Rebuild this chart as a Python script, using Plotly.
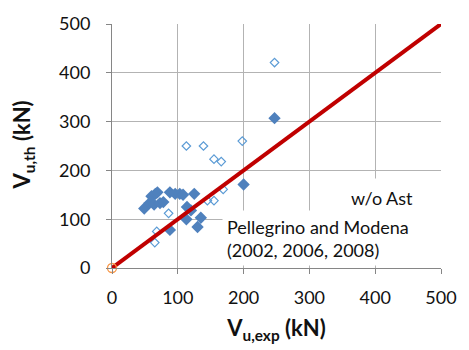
import plotly.graph_objects as go

# Data
filled_x = [49, 57, 60, 64, 66, 69, 73, 78, 88, 88, 96, 103, 108, 125, 114, 120, 113, 135, 130, 200, 247]
filled_y = [122, 133, 147, 130, 152, 155, 133, 135, 78, 155, 152, 152, 150, 152, 125, 118, 100, 103, 84, 171, 307]

hollow_x = [65, 68, 86, 113, 113, 139, 155, 166, 198, 145, 155, 169, 247]
hollow_y = [52, 75, 112, 125, 250, 250, 223, 218, 260, 138, 138, 161, 421]

line_x = [0, 500]
line_y = [0, 500]

origin_x = [0]
origin_y = [0]

tick_vals = [0, 100, 200, 300, 400, 500]

FONT = "Lato"
AXIS_COL = "#868686"
GRID_COL = "#b3b3b3"
TXT = "#111111"

fig = go.Figure()

fig.add_trace(go.Scatter(
    x=hollow_x, y=hollow_y, mode="markers",
    marker=dict(symbol="diamond-open", size=6.5, color="#5b9bd5", line=dict(width=1.2, color="#5b9bd5")),
    cliponaxis=False, showlegend=False))

fig.add_trace(go.Scatter(
    x=filled_x, y=filled_y, mode="markers",
    marker=dict(symbol="diamond", size=9.5, color="#4f81bd", line=dict(width=0)),
    cliponaxis=False, showlegend=False))

fig.add_trace(go.Scatter(
    x=line_x, y=line_y, mode="lines",
    line=dict(color="#c00000", width=4),
    cliponaxis=False, showlegend=False))

fig.add_trace(go.Scatter(
    x=origin_x, y=origin_y, mode="markers",
    marker=dict(symbol="circle-open", size=9, color="#f79646", line=dict(width=1.3, color="#f79646")),
    cliponaxis=False, showlegend=False))

fig.update_layout(
    width=469, height=350,
    margin=dict(l=112, r=19, t=20, b=82),
    paper_bgcolor="white", plot_bgcolor="white",
    font=dict(family=FONT, size=18, color=TXT),
    xaxis=dict(
        range=[0, 500], tickvals=tick_vals, ticks="outside", ticklen=5, tickcolor=AXIS_COL,
        showline=True, linecolor=AXIS_COL, linewidth=1,
        showgrid=True, gridcolor=GRID_COL, gridwidth=1, zeroline=False,
        tickfont=dict(family=FONT, size=18, color=TXT), ticklabelstandoff=8,
        title=dict(text="<b>V<sub>u,exp</sub> (kN)</b>", font=dict(family=FONT, size=22, color=TXT), standoff=14),
    ),
    yaxis=dict(
        range=[0, 500], tickvals=tick_vals, ticks="outside", ticklen=5, tickcolor=AXIS_COL,
        showline=True, linecolor=AXIS_COL, linewidth=1,
        showgrid=True, gridcolor=GRID_COL, gridwidth=1, zeroline=False,
        tickfont=dict(family=FONT, size=18, color=TXT), ticklabelstandoff=12,
    ),
)

# y-axis title placed as rotated annotation
fig.add_annotation(
    xref="paper", yref="paper", x=(21 - 112) / 338, y=(268 - 143) / 248,
    xanchor="center", yanchor="middle", showarrow=False, textangle=-90,
    text="<b>V<sub>u,th</sub> (kN)</b>", font=dict(family=FONT, size=22, color=TXT))

fig.add_annotation(
    xref="paper", yref="paper", x=(389 - 112) / 338, y=(268 - 197) / 248,
    xanchor="center", yanchor="middle", showarrow=False,
    text="w/o Ast", font=dict(family=FONT, size=18, color=TXT),
    bgcolor="white", width=100, height=34, borderpad=2)

fig.add_annotation(
    xref="paper", yref="paper", x=(225 - 112) / 338, y=(268 - 209) / 248,
    xanchor="left", yanchor="top", showarrow=False, align="left", valign="bottom",
    text="Pellegrino and Modena<br>(2002, 2006, 2008)", font=dict(family=FONT, size=18, color=TXT),
    bgcolor="white", width=211, height=46, borderpad=4)

fig.write_html("out.html")
